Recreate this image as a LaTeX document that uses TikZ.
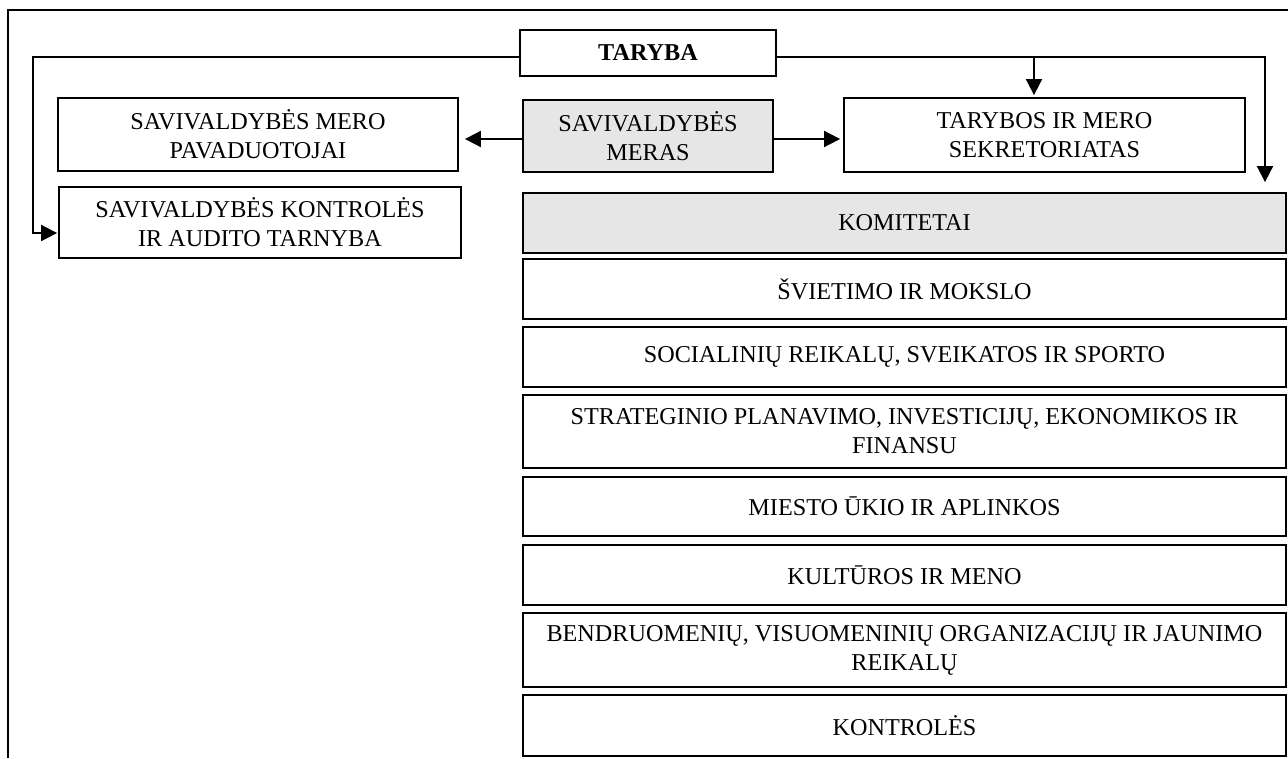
\documentclass[tikz,border=0pt]{standalone}
\usepackage{fontspec}
\setmainfont{Liberation Serif}
\usetikzlibrary{arrows.meta}
\definecolor{boxgray}{HTML}{E6E6E6}
\begin{document}
\begin{tikzpicture}[x=1pt,y=-1pt,
  box/.style={draw, line width=1.8pt, align=center, inner sep=0pt,
    font=\fontsize{24.2}{29}\selectfont},
  shaded/.style={box, fill=boxgray},
  comm/.style={box, minimum width=763pt},
  link/.style={line width=1.8pt},
  arr/.style={link, -{Triangle[length=16pt,width=16pt]}}
]
\useasboundingbox[fill=white] (0,0) rectangle (1288,758);

% outer frame (left and top edges)
\draw[line width=2.4pt] (8,758) -- (8,10) -- (1288,10);

% top row
\node[box, minimum width=256pt, minimum height=46pt] (taryba) at (648,53) {\bfseries TARYBA};
\node[box, minimum width=400pt, minimum height=73pt] (pavad) at (258,134.5) {SAVIVALDYBĖS MERO\\PAVADUOTOJAI};
\node[box, minimum width=402pt, minimum height=71pt] (audit) at (260,222.5) {SAVIVALDYBĖS KONTROLĖS\\IR AUDITO TARNYBA};
\node[shaded, minimum width=250pt, minimum height=72pt] (meras) at (648,136) {SAVIVALDYBĖS\\MERAS};
\node[box, minimum width=401pt, minimum height=74pt] (sekr) at (1044.5,135) {TARYBOS IR MERO\\SEKRETORIATAS};

% committees column
\node[comm, shaded, minimum height=60pt] (komitetai) at (904.5,223) {KOMITETAI};
\node[comm, minimum height=60pt] (svietimo) at (904.5,289) {ŠVIETIMO IR MOKSLO};
\node[comm, minimum height=60pt] (social) at (904.5,357) {SOCIALINIŲ REIKALŲ, SVEIKATOS IR SPORTO};
\node[comm, minimum height=73pt] (strateg) at (904.5,431.5) {STRATEGINIO PLANAVIMO, INVESTICIJŲ, EKONOMIKOS IR\\FINANSU};
\node[comm, minimum height=59pt] (miesto) at (904.5,506.5) {MIESTO ŪKIO IR APLINKOS};
\node[comm, minimum height=60pt] (kultura) at (904.5,575) {KULTŪROS IR MENO};
\node[comm, minimum height=74pt] (bendr) at (904.5,650) {BENDRUOMENIŲ, VISUOMENINIŲ ORGANIZACIJŲ IR JAUNIMO\\REIKALŲ};
\node[comm, minimum height=61pt] (kontr) at (904.5,725.5) {KONTROLĖS};

% connectors from the council
\coordinate (lbend) at (33,233);
\coordinate (branch) at (1034,57);
\coordinate (rcol) at (1265,57);
\draw[arr, shorten >=1pt] ([yshift=-4pt]taryba.west) -| (lbend) -- (audit.west |- lbend);
\draw[arr, shorten >=10pt] ([yshift=-4pt]taryba.east) -| (komitetai.north -| rcol);
\draw[arr, shorten >=2pt] (branch) -- (sekr.north -| branch);

% connectors from the mayor
\coordinate (mL) at ([yshift=-3pt]meras.west);
\coordinate (mR) at ([yshift=-3pt]meras.east);
\draw[arr, shorten >=6pt] (mL) -- (pavad.east |- mL);
\draw[arr, shorten >=3pt] (mR) -- (sekr.west |- mR);
\end{tikzpicture}
\end{document}
